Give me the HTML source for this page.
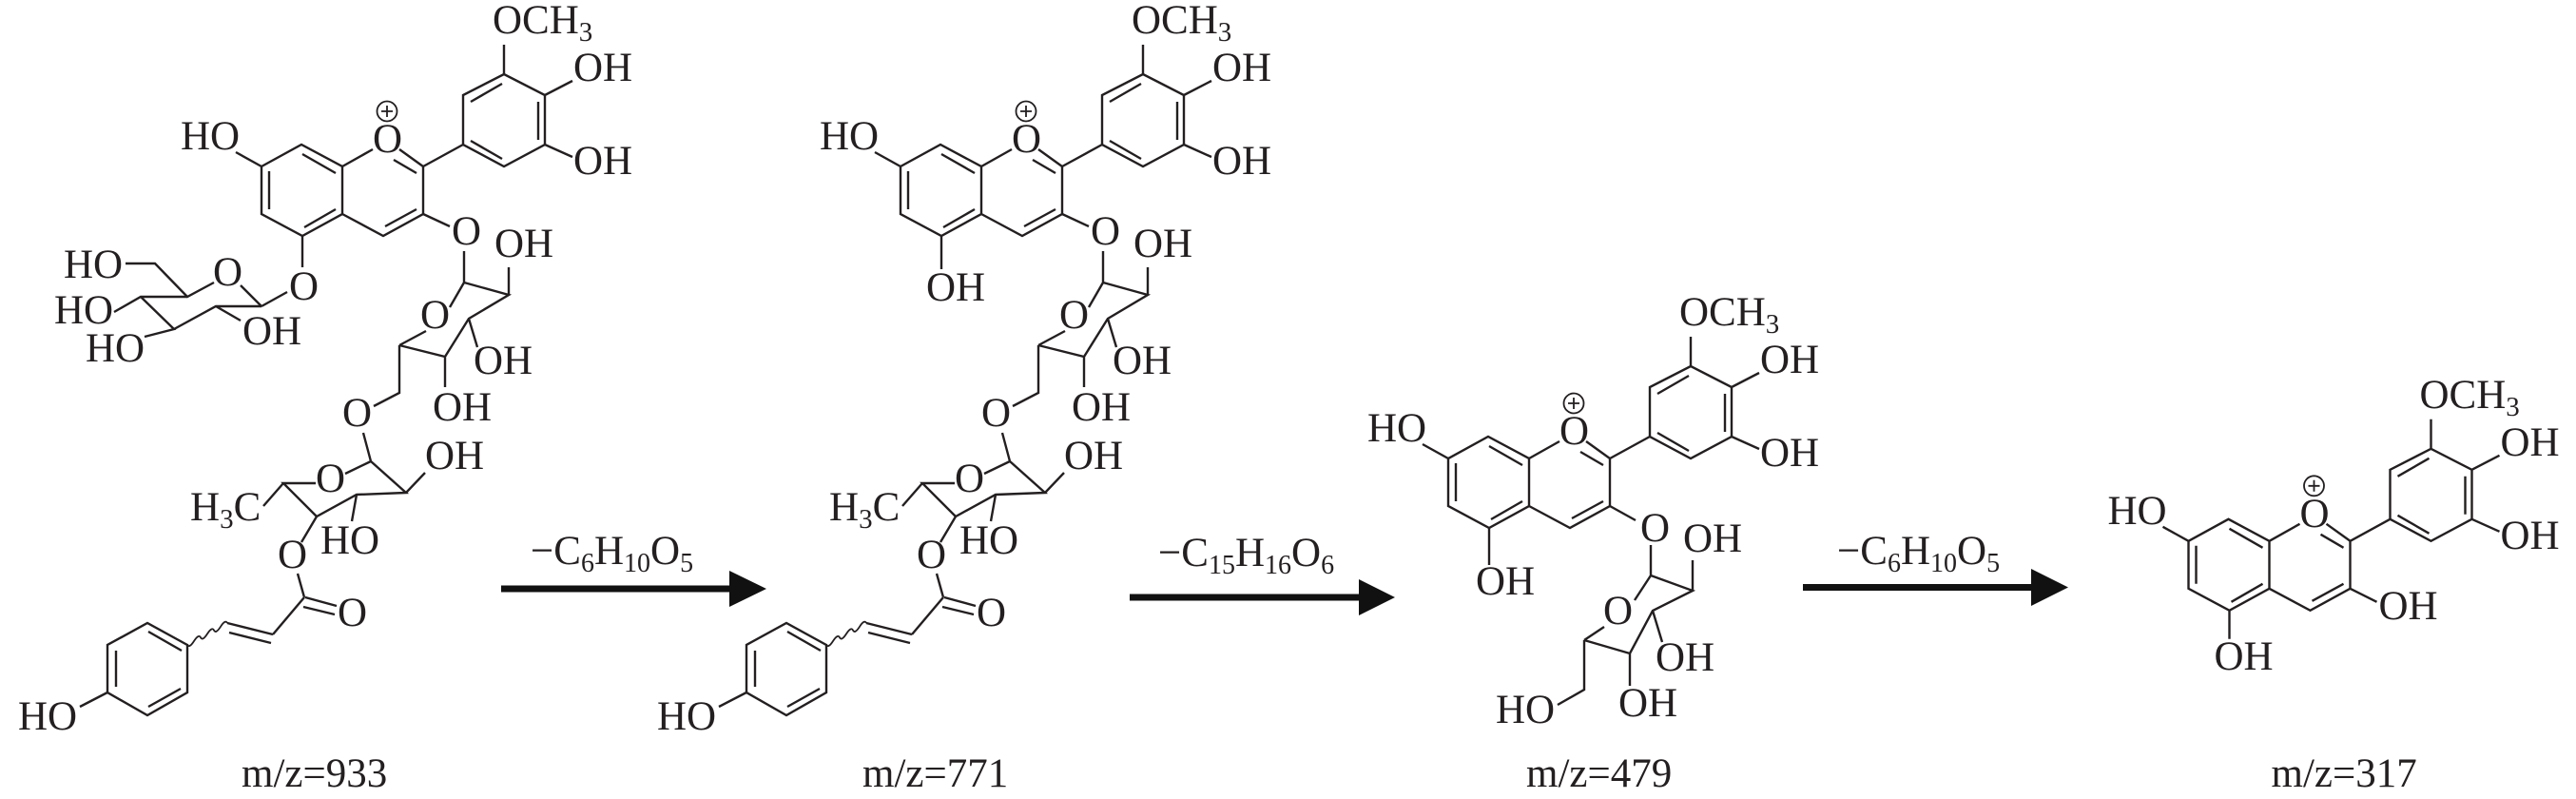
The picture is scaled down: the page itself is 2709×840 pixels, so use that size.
<!DOCTYPE html>
<html><head><meta charset="utf-8"><style>
html,body{margin:0;padding:0;background:#fff;}
svg{display:block;}
text{font-family:"Liberation Serif",serif;fill:#231f20;font-size:43px;}
.b{fill:none;stroke:#231f20;stroke-width:2.4;stroke-linejoin:miter;stroke-linecap:butt;}
</style></head><body>
<svg width="2709" height="840" viewBox="0 0 2709 840" xmlns="http://www.w3.org/2000/svg">
<rect width="2709" height="840" fill="#fff"/>

<!-- ========== STRUCTURE 1 ========== -->
<g>
<path class="b" d="M275,175 L317,152 L360,175 L360,225 L318,248 L275,225 Z M283,180 L283,220 M318,162 L353,182 M353,220 L320,239 M360,175 L392,157 M420,157 L445,175 L445,225 L403,248 L360,225 M414,168 L438,182 M438,220 L405,238 M445,175 L487,152 M487,152 L487,100 L530,78 L573,100 L573,152 L530,175 Z M495,107 L528,88 M566,107 L566,147 M528,167 L495,148 M530,78 L530,47 M573,100 L602,85 M573,152 L602,165 M275,175 L248,160"/>
<text x="190" y="157">HO</text><text x="392" y="160">O</text>
<text x="518" y="35">OCH<tspan font-size="29" dy="8">3</tspan></text>
<text x="603" y="85">OH</text><text x="603" y="183">OH</text>
<circle class="b" cx="407" cy="117" r="10.5" style="stroke-width:1.8"/><path class="b" style="stroke-width:1.8" d="M401,117 L413,117 M407,111 L407,123"/>
<path class="b" d="M445,225 L473,238 M488,264 L488,297 M488,297 L535,310 L493,335 L468,375 L420,363 M488,297 L473,323 M448,348 L420,363 M535,310 L535,281 M493,335 L502,365 M468,375 L468,407 M420,363 L420,413 L393,427 M382,455 L390,485 M390,485 L427,518 L375,520 L333,543 L298,508 L332,508 M363,498 L390,485 M427,518 L447,497 M375,520 L370,548 M298,508 L277,532 M333,543 L317,570 M313,603 L320,628 M321,628 L354,637 M319,638 L352,646 M320,628 L287,667 M287,667 L239,655 M285,676 L241,665 M197,678 L155,655 L113,678 L113,728 L155,752 L197,728 Z M191,684 L156,664 M122,684 L122,722 M156,743 L190,724 M113,728 L84,743"/>
<path class="b" style="stroke-width:1.8" d="M239,655 q-2,-4 -7,3.8 t-7,3.8 t-7,3.8 t-7,3.8 t-7,3.8 t-7,3.8"/>
<text x="475" y="257">O</text><text x="520" y="270">OH</text><text x="442" y="345">O</text>
<text x="498" y="393">OH</text><text x="455" y="442">OH</text><text x="360" y="448">O</text>
<text x="332" y="517">O</text><text x="447" y="493">OH</text><text x="337" y="582">HO</text>
<text x="200" y="547">H<tspan font-size="29" dy="8">3</tspan><tspan dy="-8">C</tspan></text>
<text x="292" y="597">O</text><text x="355" y="658">O</text><text x="19" y="767">HO</text>
<text x="254" y="827">m/z=933</text>
<path class="b" d="M318,248 L318,281 M302,307 L275,322 M275,322 L253,300 M225,297 L197,312 L163,277 L132,277 M197,312 L148,312 L120,328 M148,312 L183,346 L152,354 M183,346 L227,322 L275,322 M227,322 L253,337"/>
<text x="304" y="315">O</text><text x="224" y="300">O</text><text x="67" y="292">HO</text>
<text x="57" y="340">HO</text><text x="90" y="380">HO</text><text x="255" y="362">OH</text>
</g>

<!-- ========== STRUCTURE 2 ========== -->
<g transform="translate(672,0)">
<path class="b" d="M275,175 L317,152 L360,175 L360,225 L318,248 L275,225 Z M283,180 L283,220 M318,162 L353,182 M353,220 L320,239 M360,175 L392,157 M420,157 L445,175 L445,225 L403,248 L360,225 M414,168 L438,182 M438,220 L405,238 M445,175 L487,152 M487,152 L487,100 L530,78 L573,100 L573,152 L530,175 Z M495,107 L528,88 M566,107 L566,147 M528,167 L495,148 M530,78 L530,47 M573,100 L602,85 M573,152 L602,165 M275,175 L248,160"/>
<text x="190" y="157">HO</text><text x="392" y="160">O</text>
<text x="518" y="35">OCH<tspan font-size="29" dy="8">3</tspan></text>
<text x="603" y="85">OH</text><text x="603" y="183">OH</text>
<circle class="b" cx="407" cy="117" r="10.5" style="stroke-width:1.8"/><path class="b" style="stroke-width:1.8" d="M401,117 L413,117 M407,111 L407,123"/>
<path class="b" d="M445,225 L473,238 M488,264 L488,297 M488,297 L535,310 L493,335 L468,375 L420,363 M488,297 L473,323 M448,348 L420,363 M535,310 L535,281 M493,335 L502,365 M468,375 L468,407 M420,363 L420,413 L393,427 M382,455 L390,485 M390,485 L427,518 L375,520 L333,543 L298,508 L332,508 M363,498 L390,485 M427,518 L447,497 M375,520 L370,548 M298,508 L277,532 M333,543 L317,570 M313,603 L320,628 M321,628 L354,637 M319,638 L352,646 M320,628 L287,667 M287,667 L239,655 M285,676 L241,665 M197,678 L155,655 L113,678 L113,728 L155,752 L197,728 Z M191,684 L156,664 M122,684 L122,722 M156,743 L190,724 M113,728 L84,743 M318,248 L318,283"/>
<path class="b" style="stroke-width:1.8" d="M239,655 q-2,-4 -7,3.8 t-7,3.8 t-7,3.8 t-7,3.8 t-7,3.8 t-7,3.8"/>
<text x="475" y="257">O</text><text x="520" y="270">OH</text><text x="442" y="345">O</text>
<text x="498" y="393">OH</text><text x="455" y="442">OH</text><text x="360" y="448">O</text>
<text x="332" y="517">O</text><text x="447" y="493">OH</text><text x="337" y="582">HO</text>
<text x="200" y="547">H<tspan font-size="29" dy="8">3</tspan><tspan dy="-8">C</tspan></text>
<text x="292" y="597">O</text><text x="355" y="658">O</text><text x="19" y="767">HO</text>
<text x="302" y="316">OH</text>
<text x="235" y="827">m/z=771</text>
</g>

<!-- ========== STRUCTURE 3 ========== -->
<g transform="translate(1248,307)">
<path class="b" d="M275,175 L317,152 L360,175 L360,225 L318,248 L275,225 Z M283,180 L283,220 M318,162 L353,182 M353,220 L320,239 M360,175 L392,157 M420,157 L445,175 L445,225 L403,248 L360,225 M414,168 L438,182 M438,220 L405,238 M445,175 L487,152 M487,152 L487,100 L530,78 L573,100 L573,152 L530,175 Z M495,107 L528,88 M566,107 L566,147 M528,167 L495,148 M530,78 L530,47 M573,100 L602,85 M573,152 L602,165 M275,175 L248,160"/>
<text x="190" y="157">HO</text><text x="392" y="160">O</text>
<text x="518" y="35">OCH<tspan font-size="29" dy="8">3</tspan></text>
<text x="603" y="85">OH</text><text x="603" y="183">OH</text>
<circle class="b" cx="407" cy="117" r="10.5" style="stroke-width:1.8"/><path class="b" style="stroke-width:1.8" d="M401,117 L413,117 M407,111 L407,123"/>
<path class="b" d="M318,248 L318,287 M445,225 L472,240 M488,266 L488,298 M488,298 L532,314 L490,335 L466,380 L418,366 M488,298 L471,324 M439,352 L418,366 M532,314 L532,282 M490,335 L500,368 M466,380 L466,414 M418,366 L418,418 L390,434"/>
<text x="304" y="318">OH</text><text x="477" y="262">O</text><text x="522" y="273">OH</text>
<text x="438" y="349">O</text><text x="493" y="398">OH</text><text x="454" y="446">OH</text>
<text x="325" y="453">HO</text>
<text x="357" y="520">m/z=479</text>
</g>

<!-- ========== STRUCTURE 4 ========== -->
<g transform="translate(2026.5,393.8)">
<path class="b" d="M275,175 L317,152 L360,175 L360,225 L318,248 L275,225 Z M283,180 L283,220 M318,162 L353,182 M353,220 L320,239 M360,175 L392,157 M420,157 L445,175 L445,225 L403,248 L360,225 M414,168 L438,182 M438,220 L405,238 M445,175 L487,152 M487,152 L487,100 L530,78 L573,100 L573,152 L530,175 Z M495,107 L528,88 M566,107 L566,147 M528,167 L495,148 M530,78 L530,47 M573,100 L602,85 M573,152 L602,165 M275,175 L248,160 M445,225 L473,239 M318,248 L318,278"/>
<text x="190" y="157">HO</text><text x="392" y="160">O</text>
<text x="518" y="35">OCH<tspan font-size="29" dy="8">3</tspan></text>
<text x="603" y="85">OH</text><text x="603" y="183">OH</text>
<circle class="b" cx="407" cy="117" r="10.5" style="stroke-width:1.8"/><path class="b" style="stroke-width:1.8" d="M401,117 L413,117 M407,111 L407,123"/>
<text x="475" y="257">OH</text><text x="302" y="310">OH</text>
<text x="362" y="433">m/z=317</text>
</g>

<!-- ========== ARROWS ========== -->
<rect x="527" y="615.5" width="242" height="7" fill="#111"/>
<polygon points="767,600 806,619 767,638" fill="#111"/>
<text x="558" y="593" font-size="42">−C<tspan font-size="28" dy="8">6</tspan><tspan dy="-8">H</tspan><tspan font-size="28" dy="8">10</tspan><tspan dy="-8">O</tspan><tspan font-size="28" dy="8">5</tspan></text>

<rect x="1188" y="624.5" width="243" height="7" fill="#111"/>
<polygon points="1429,609 1467,628 1429,647" fill="#111"/>
<text x="1218" y="595" font-size="42">−C<tspan font-size="28" dy="8">15</tspan><tspan dy="-8">H</tspan><tspan font-size="28" dy="8">16</tspan><tspan dy="-8">O</tspan><tspan font-size="28" dy="8">6</tspan></text>

<rect x="1896" y="614" width="242" height="7" fill="#111"/>
<polygon points="2136,598 2175,617.5 2136,637" fill="#111"/>
<text x="1932" y="593" font-size="42">−C<tspan font-size="28" dy="8">6</tspan><tspan dy="-8">H</tspan><tspan font-size="28" dy="8">10</tspan><tspan dy="-8">O</tspan><tspan font-size="28" dy="8">5</tspan></text>
</svg>
</body></html>
